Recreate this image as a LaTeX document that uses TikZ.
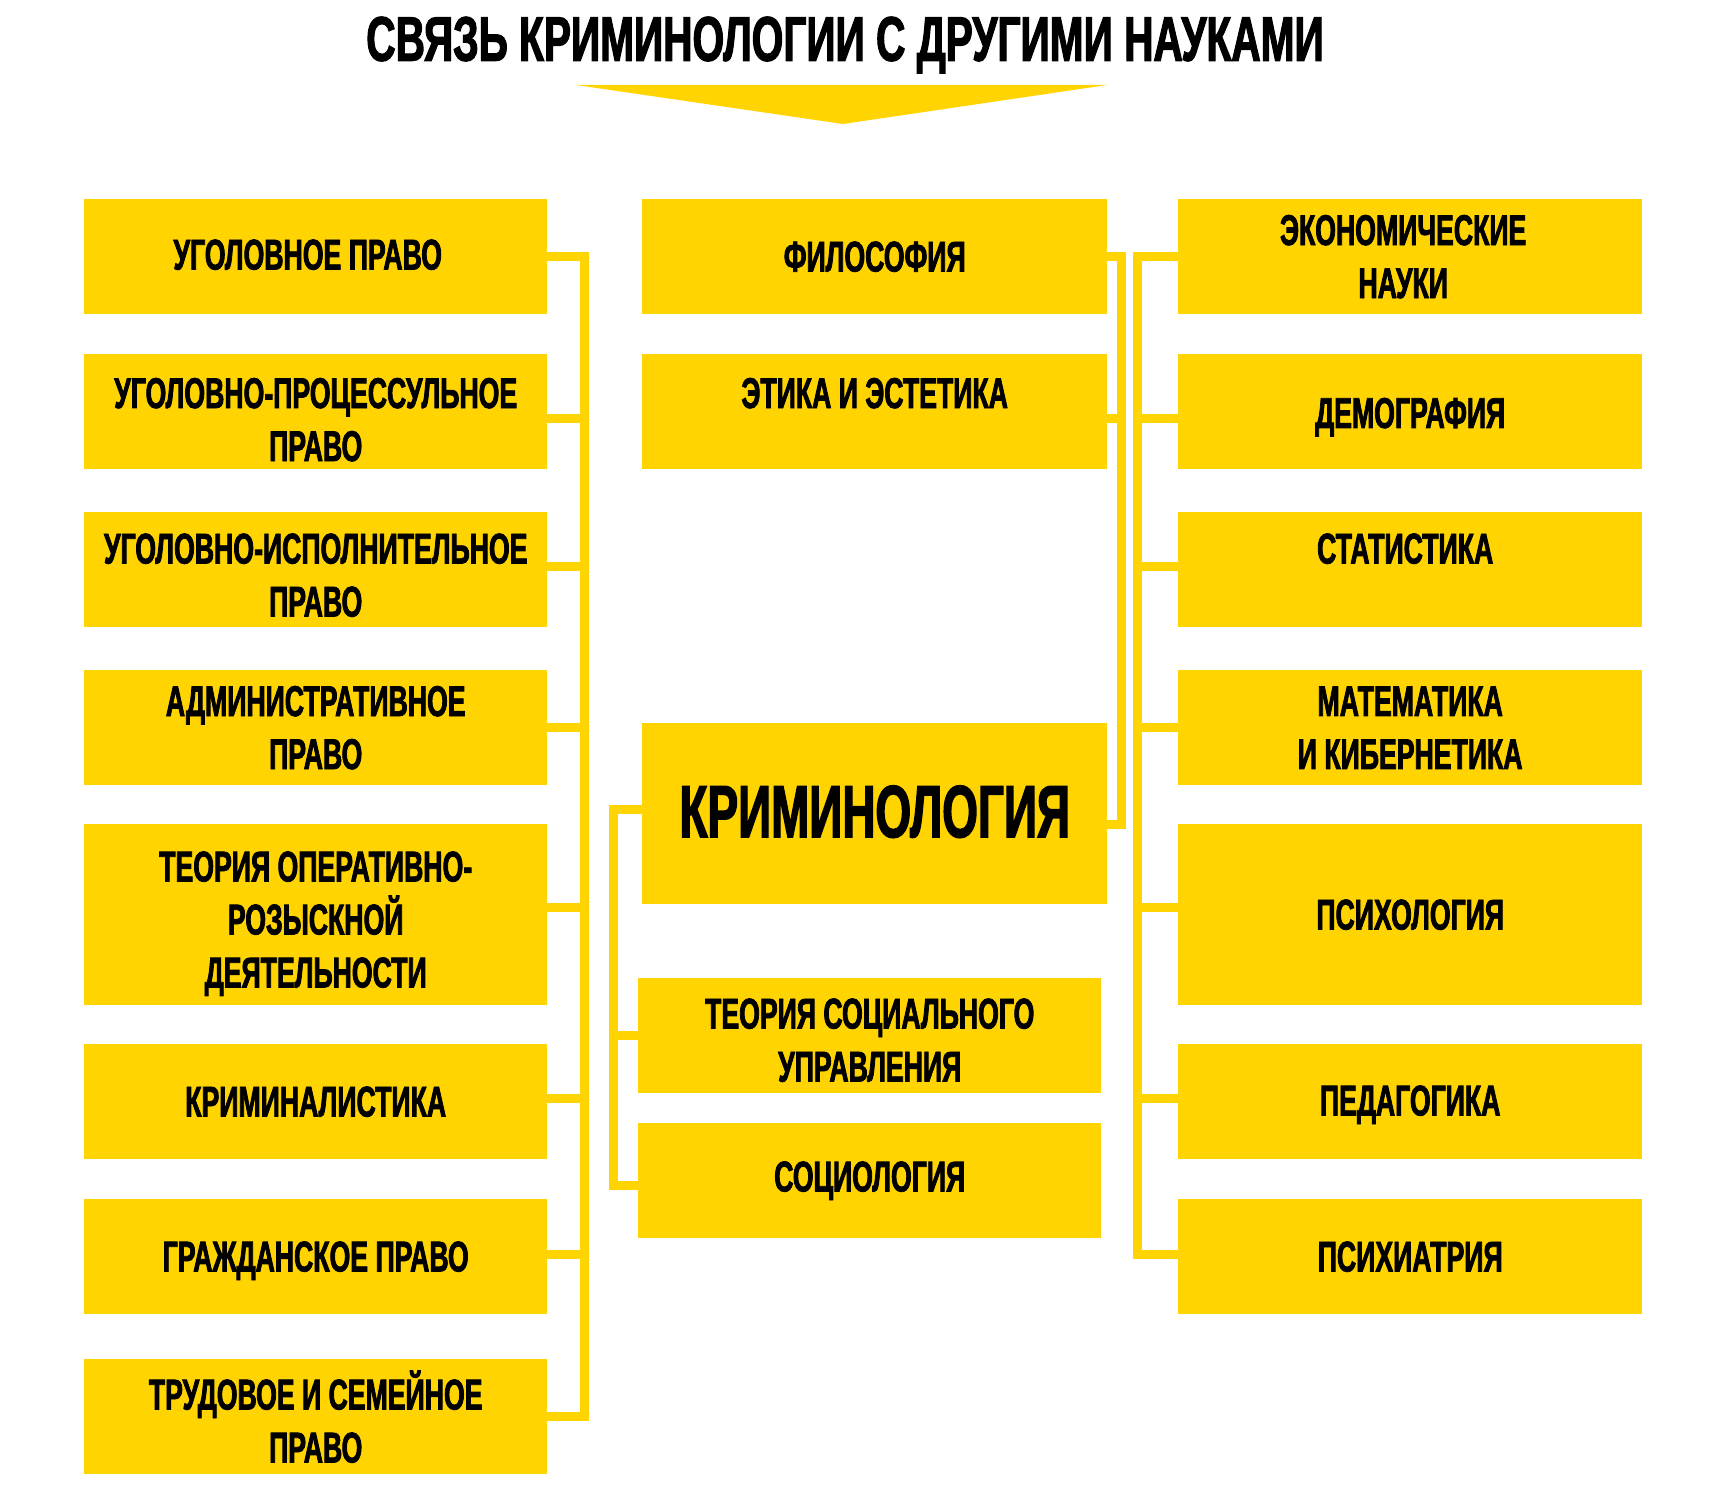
\documentclass[tikz,border=0pt]{standalone}
\usepackage{fontspec}
\newfontfamily\cond{Liberation Sans}[FakeStretch=0.62,FakeBold=1.8]
\newfontfamily\condtitle{Liberation Sans}[FakeStretch=0.645,FakeBold=1.8]
\definecolor{ylw}{RGB}{255,212,0}
% shift ink of a line: #1 right, #2 up, keeping its box
\newcommand\tx[3]{\hspace*{#1}\raisebox{#2}[\height][\depth]{#3}\hspace*{-#1}}
\begin{document}
\begin{tikzpicture}[x=1pt,y=-1pt,
  box/.style={fill=ylw, draw=none, inner sep=0pt, anchor=north west, align=center,
    text=black, font=\cond\bfseries\fontsize{43}{53}\selectfont},
  lw/.style={minimum width=463pt},
  mw/.style={minimum width=465pt},
  rw/.style={minimum width=464pt},
  hs/.style={minimum height=115pt},
  hb/.style={minimum height=181pt},
  bus/.style={draw=ylw, line width=9pt}]
\useasboundingbox (0,0) rectangle (1730,1498);
\fill[white] (0,0) rectangle (1730,1498);

% title and arrow
\node[font=\condtitle\bfseries\fontsize{63}{70}\selectfont, text=black] (title) at (845,45) {СВЯЗЬ КРИМИНОЛОГИИ С ДРУГИМИ НАУКАМИ};
\fill[ylw] (576,85) -- (1107,85) -- (843,124) -- cycle;

% left column
\node[box,lw,hs] (l1) at (84,199) {\tx{-8pt}{2pt}{УГОЛОВНОЕ ПРАВО}};
\node[box,lw,hs] (l2) at (84,354) {\tx{0pt}{-8pt}{УГОЛОВНО-ПРОЦЕССУЛЬНОЕ}\\\tx{0pt}{-8pt}{ПРАВО}};
\node[box,lw,hs] (l3) at (84,512) {\tx{0pt}{-5.5pt}{УГОЛОВНО-ИСПОЛНИТЕЛЬНОЕ}\\\tx{0pt}{-5.5pt}{ПРАВО}};
\node[box,lw,hs] (l4) at (84,670) {АДМИНИСТРАТИВНОЕ\\ПРАВО};
\node[box,lw,hb] (l5) at (84,824) {\tx{0pt}{-9pt}{ТЕОРИЯ ОПЕРАТИВНО-}\\\tx{0pt}{-9pt}{РОЗЫСКНОЙ}\\\tx{0pt}{-9pt}{ДЕЯТЕЛЬНОСТИ}};
\node[box,lw,hs] (l6) at (84,1044) {КРИМИНАЛИСТИКА};
\node[box,lw,hs] (l7) at (84,1199) {\tx{0pt}{-4pt}{ГРАЖДАНСКОЕ ПРАВО}};
\node[box,lw,hs] (l8) at (84,1359) {ТРУДОВОЕ И СЕМЕЙНОЕ\\ПРАВО};

% middle column
\node[box,mw,hs] (m1) at (642,199) {ФИЛОСОФИЯ};
\node[box,mw,hs] (m2) at (642,354) {\tx{0pt}{-8pt}{ЭТИКА И ЭСТЕТИКА}\\\phantom{Э}};
\node[box,mw,hb,font=\cond\bfseries\fontsize{74}{80}\selectfont] (crim) at (642,723) {\tx{0pt}{2pt}{КРИМИНОЛОГИЯ}};
\node[box,lw,hs] (m3) at (638,978) {\tx{0pt}{-4.5pt}{ТЕОРИЯ СОЦИАЛЬНОГО}\\\tx{0pt}{-4.5pt}{УПРАВЛЕНИЯ}};
\node[box,lw,hs] (m4) at (638,1123) {СОЦИОЛОГИЯ};

% right column
\node[box,rw,hs] (r1) at (1178,199) {\tx{-7pt}{0pt}{ЭКОНОМИЧЕСКИЕ}\\\tx{-7pt}{0pt}{НАУКИ}};
\node[box,rw,hs] (r2) at (1178,354) {\tx{0pt}{-5.5pt}{ДЕМОГРАФИЯ}};
\node[box,rw,hs] (r3) at (1178,512) {\tx{-5pt}{-5.5pt}{СТАТИСТИКА}\\\phantom{С}};
\node[box,rw,hs] (r4) at (1178,670) {МАТЕМАТИКА\\И КИБЕРНЕТИКА};
\node[box,rw,hb] (r5) at (1178,824) {ПСИХОЛОГИЯ};
\node[box,rw,hs] (r6) at (1178,1044) {\tx{0pt}{-3pt}{ПЕДАГОГИКА}};
\node[box,rw,hs] (r7) at (1178,1199) {ПСИХИАТРИЯ};

% bus coordinates
\coordinate (lbus) at (584,0);
\coordinate (cbus) at (613,0);
\coordinate (pbus) at (1121,0);
\coordinate (rbus) at (1137,0);

% left connectors (stub offsets downward, in px)
\foreach \i/\s in {1/0,2/6.5,3/-3.5,4/0,5/-7,6/-3,7/-2,8/0}
  {\draw[bus] ([yshift=-\s pt]l\i.east) -- ([yshift=-\s pt]l\i.east -| lbus);}
\draw[bus, line cap=rect] (l1.east -| lbus) -- (l8.east -| lbus);

% right connectors
\foreach \i/\s in {1/0,2/6.5,3/-3.5,4/0,5/-7,6/-3,7/-2}
  {\draw[bus] ([yshift=-\s pt]r\i.west) -- ([yshift=-\s pt]r\i.west -| rbus);}
\draw[bus, line cap=rect] (r1.west -| rbus) -- ([yshift=2pt]r7.west -| rbus);

% philosophy / ethics to criminology
\coordinate (crimr) at ([yshift=-11pt]crim.east);
\draw[bus, line join=miter] (m1.east) -- (m1.east -| pbus) -- (crimr -| pbus) -- (crimr);
\draw[bus] ([yshift=-6.5pt]m2.east) -- ([yshift=-6.5pt]m2.east -| pbus);

% criminology to theory of social management / sociology
\coordinate (criml) at ([yshift=4pt]crim.west);
\coordinate (socl) at ([yshift=-5pt]m4.west);
\draw[bus, line join=miter] (criml) -- (criml -| cbus) -- (socl -| cbus) -- (socl);
\draw[bus] (m3.west) -- (m3.west -| cbus);
\end{tikzpicture}
\end{document}
